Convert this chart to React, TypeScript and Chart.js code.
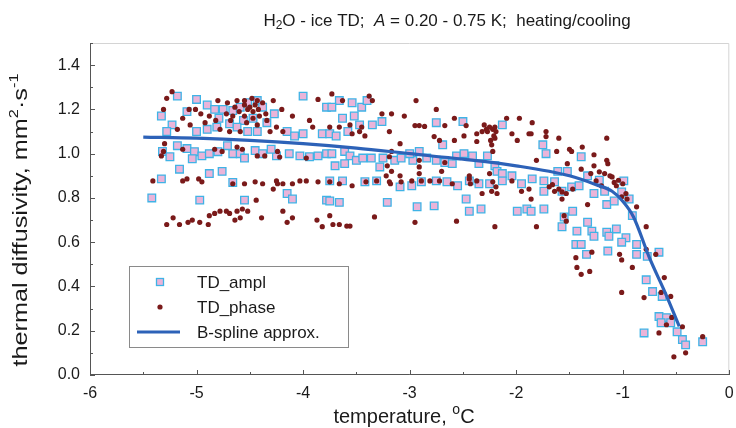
import React, { useEffect, useRef } from "react";
import { Chart, registerables } from "chart.js";

Chart.register(...registerables);

const FONT = '"Liberation Sans", Arial, Helvetica, sans-serif';

// ---------- data ----------
const xTickValues = [-6, -5, -4, -3, -2, -1, 0];
const yTickValues = [0, 0.2, 0.4, 0.6, 0.8, 1.0, 1.2, 1.4];
const legendLabels = ["TD_ampl", "TD_phase", "B-spline approx."];

// TD_ampl (squares): [temperature °C, diffusivity mm²/s]
const tdAmpl: number[][] = [
  [-5.18, 1.26], [-5.0, 1.245], [-5.33, 1.17], [-5.23, 1.13], [-4.9, 1.22], [-4.83, 1.2], [-4.75, 1.2],
  [-4.66, 1.195], [-4.59, 1.21], [-4.52, 1.23], [-4.43, 1.24], [-4.38, 1.21], [-4.27, 1.18], [-4.0, 1.26], [-3.78, 1.21],
  [-4.47, 1.16], [-4.56, 1.15], [-4.34, 1.14], [-4.79, 1.16], [-5.09, 1.19],
  [-5.28, 1.1], [-5.0, 1.1], [-4.9, 1.11], [-4.81, 1.12], [-4.69, 1.135], [-4.62, 1.12], [-4.52, 1.1], [-4.43, 1.1],
  [-4.15, 1.1], [-4.08, 1.08], [-4.0, 1.09], [-3.82, 1.09],
  [-5.18, 1.036], [-5.09, 1.023], [-5.02, 1.009], [-4.95, 0.99], [-4.88, 1.0], [-4.8, 1.009], [-4.71, 1.036],
  [-4.66, 1.0], [-4.59, 1.0], [-4.45, 1.014], [-4.38, 1.0], [-4.25, 0.99], [-4.13, 1.0], [-4.03, 0.99], [-3.94, 0.986],
  [-3.86, 0.99], [-3.78, 1.0], [-4.55, 0.98], [-4.3, 1.02],
  [-5.32, 1.01], [-5.25, 0.986], [-5.04, 0.977], [-5.16, 0.93], [-4.88, 0.91], [-4.76, 0.92], [-5.33, 0.886],
  [-4.66, 0.87], [-5.42, 0.8], [-4.97, 0.79], [-4.55, 0.79], [-4.15, 0.82], [-4.1, 0.795], [-3.78, 0.79],
  [-3.66, 1.24], [-3.54, 1.23], [-3.45, 1.21], [-3.4, 1.24], [-3.73, 1.21], [-3.63, 1.16], [-3.52, 1.17],
  [-3.35, 1.13], [-3.26, 1.145], [-3.75, 1.09], [-3.69, 1.08], [-2.75, 1.14], [-2.5, 1.145], [-2.13, 1.13],
  [-3.47, 1.13], [-3.58, 1.1],
  [-3.73, 1.0], [-3.61, 1.01], [-3.56, 0.99], [-3.5, 0.97], [-3.44, 0.98], [-3.36, 0.98], [-3.7, 0.945],
  [-3.61, 0.955], [-3.28, 0.94], [-3.25, 0.98], [-3.14, 0.97], [-3.08, 0.98], [-2.97, 0.97],
  [-3.0, 1.0], [-2.91, 1.01], [-2.84, 0.98], [-2.75, 0.97], [-2.67, 0.96], [-2.6, 0.955], [-2.56, 0.99],
  [-2.49, 1.0], [-2.41, 0.99], [-2.35, 0.955], [-2.27, 0.99], [-2.2, 0.945], [-2.18, 0.92], [-2.13, 0.91],
  [-2.04, 0.9], [-2.69, 1.04],
  [-3.75, 0.877], [-3.63, 0.877], [-3.42, 0.873], [-3.31, 0.877], [-3.09, 0.85], [-2.98, 0.855], [-2.89, 0.873],
  [-2.75, 0.877], [-2.65, 0.873], [-2.55, 0.855], [-2.44, 0.877], [-2.35, 0.864], [-2.25, 0.864], [-2.13, 0.877],
  [-1.95, 0.864],
  [-3.66, 0.78], [-3.75, 0.786], [-3.21, 0.78], [-2.93, 0.76], [-2.77, 0.764], [-2.47, 0.795], [-2.44, 0.74],
  [-2.33, 0.75], [-1.99, 0.74], [-1.9, 0.75],
  [-1.75, 1.04], [-1.72, 1.0], [-1.39, 0.986], [-1.61, 0.92], [-1.52, 0.92],
  [-1.85, 0.886], [-1.74, 0.877], [-1.64, 0.873], [-1.57, 0.83], [-1.48, 0.85], [-1.41, 0.855], [-1.27, 0.82],
  [-1.17, 0.83], [-1.15, 0.77], [-1.08, 0.786], [-0.99, 0.877], [-1.01, 0.827], [-0.94, 0.795], [-0.91, 0.72],
  [-1.33, 0.9], [-1.22, 0.88],
  [-1.74, 0.83], [-1.74, 0.75], [-1.86, 0.74], [-1.47, 0.74], [-1.55, 0.714], [-1.57, 0.67], [-1.43, 0.65],
  [-1.33, 0.69], [-1.29, 0.65], [-1.15, 0.645], [-1.06, 0.66],
  [-1.44, 0.59], [-1.39, 0.59], [-1.34, 0.545], [-1.27, 0.627], [-1.13, 0.627], [-0.97, 0.62], [-1.01, 0.6],
  [-1.14, 0.56], [-0.87, 0.545], [-0.77, 0.536], [-0.66, 0.555], [-0.87, 0.59], [-0.78, 0.43], [-0.72, 0.377],
  [-0.63, 0.355], [-0.66, 0.264], [-0.59, 0.259], [-0.64, 0.236], [-0.55, 0.236], [-0.8, 0.19], [-0.49, 0.195],
  [-0.44, 0.16], [-0.41, 0.136], [-0.25, 0.15],
];

// TD_phase (dots): [temperature °C, diffusivity mm²/s]
const tdPhase: number[][] = [
  [-5.23, 1.28], [-5.28, 1.25], [-5.31, 1.2], [-5.13, 1.16], [-5.06, 1.13], [-5.18, 1.11], [-4.8, 1.24],
  [-4.71, 1.23], [-4.62, 1.24], [-4.55, 1.24], [-4.48, 1.25], [-4.43, 1.24],
  [-4.72, 1.18], [-4.66, 1.17], [-4.55, 1.17], [-4.47, 1.16], [-4.41, 1.17], [-4.28, 1.24], [-4.2, 1.2],
  [-4.1, 1.17], [-3.86, 1.245],
  [-4.55, 1.22], [-4.5, 1.21], [-4.47, 1.19], [-4.52, 1.2], [-4.6, 1.19], [-4.42, 1.2], [-4.45, 1.22],
  [-4.64, 1.21], [-4.38, 1.23], [-4.68, 1.15], [-4.35, 1.18],
  [-4.96, 1.18], [-4.88, 1.17], [-4.82, 1.15], [-4.92, 1.14], [-5.01, 1.2], [-5.07, 1.2],
  [-4.78, 1.11], [-4.69, 1.1], [-4.59, 1.1], [-4.53, 1.14], [-4.43, 1.13], [-4.34, 1.15], [-4.25, 1.12],
  [-4.19, 1.1], [-4.31, 1.1], [-3.94, 1.15], [-3.91, 1.12], [-3.75, 1.12],
  [-5.3, 1.045], [-5.31, 1.01], [-5.33, 0.99], [-5.13, 1.02], [-4.83, 1.02], [-4.76, 1.01], [-4.62, 1.03],
  [-4.57, 1.02], [-4.43, 0.99], [-4.36, 0.99], [-4.24, 1.01], [-4.22, 0.985], [-3.97, 0.98],
  [-5.13, 0.877], [-5.09, 0.886], [-4.98, 0.886], [-4.95, 0.873], [-5.41, 0.877], [-4.66, 0.864], [-4.55, 0.864],
  [-4.45, 0.873], [-4.38, 0.864], [-4.25, 0.877], [-4.19, 0.864], [-4.1, 0.864], [-4.24, 0.864], [-4.03, 0.877],
  [-3.97, 0.877], [-3.86, 0.873], [-4.28, 0.84], [-4.44, 0.79],
  [-5.28, 0.68], [-5.22, 0.71], [-5.16, 0.68], [-5.08, 0.69], [-5.04, 0.7], [-4.97, 0.69], [-4.89, 0.68],
  [-4.88, 0.72], [-4.83, 0.73], [-4.78, 0.74], [-4.72, 0.74], [-4.69, 0.73], [-4.62, 0.74], [-4.57, 0.75],
  [-4.52, 0.74], [-4.59, 0.71], [-4.64, 0.7], [-4.39, 0.71], [-4.19, 0.74], [-4.15, 0.69], [-4.1, 0.71],
  [-3.87, 0.7], [-3.82, 0.67], [-3.75, 0.72],
  [-3.38, 1.26], [-3.73, 1.27], [-3.63, 1.24], [-3.35, 1.24], [-2.94, 1.24], [-2.75, 1.2], [-3.26, 1.18],
  [-3.17, 1.18], [-3.05, 1.17],
  [-2.91, 1.127], [-2.86, 1.123], [-2.67, 1.127], [-2.58, 1.16], [-2.47, 1.127], [-2.49, 1.08], [-2.37, 1.09],
  [-2.32, 1.1], [-2.27, 1.1], [-2.22, 1.11], [-2.19, 1.1], [-2.2, 1.07], [-2.23, 1.04], [-2.22, 1.01],
  [-2.09, 1.16], [-1.97, 1.16], [-1.99, 1.06], [-2.04, 1.09], [-1.88, 1.09],
  [-2.25, 1.12], [-2.21, 1.08], [-2.24, 1.06], [-2.2, 1.12], [-2.28, 1.11], [-2.3, 1.13],
  [-3.66, 1.12], [-3.56, 1.13], [-3.47, 1.1], [-3.42, 1.08], [-3.45, 1.12], [-3.54, 1.09],
  [-3.19, 1.1], [-3.09, 1.045], [-2.95, 1.127], [-2.77, 1.077], [-2.72, 1.06], [-2.58, 1.06], [-2.37, 1.055],
  [-3.19, 0.986], [-3.21, 0.945], [-3.17, 0.92], [-3.19, 0.873], [-3.09, 0.9], [-3.22, 0.9], [-3.17, 1.01],
  [-2.91, 0.94], [-2.91, 0.91], [-2.89, 0.877], [-2.91, 0.97], [-2.7, 0.92], [-2.67, 0.96], [-2.44, 0.886],
  [-2.43, 0.864],
  [-2.25, 0.91], [-2.22, 0.873], [-2.19, 0.85], [-2.23, 0.83], [-2.32, 0.82], [-2.18, 0.82],
  [-3.75, 0.873], [-3.66, 0.864], [-3.54, 0.855], [-3.41, 0.873], [-3.31, 0.877], [-3.18, 0.864], [-3.08, 0.873],
  [-2.98, 0.877], [-2.81, 0.877], [-2.72, 0.877], [-2.6, 0.864], [-2.37, 0.877], [-2.04, 0.877], [-1.95, 0.83],
  [-3.33, 0.714], [-2.95, 0.69], [-2.56, 0.695], [-2.2, 0.67], [-3.72, 0.68], [-3.66, 0.68], [-3.59, 0.673],
  [-3.56, 0.673], [-2.44, 0.9],
  [-1.85, 1.14], [-1.86, 1.09], [-1.72, 1.1], [-1.72, 1.077], [-1.6, 1.07], [-1.81, 0.97], [-1.15, 1.07],
  [-1.62, 1.01], [-1.5, 1.02], [-1.48, 1.01], [-1.38, 1.03], [-1.27, 0.995], [-1.39, 0.93], [-1.27, 0.945],
  [-1.52, 0.955], [-1.15, 0.97], [-1.14, 0.955],
  [-1.3, 0.91], [-1.22, 0.918], [-1.17, 0.91], [-1.1, 0.895], [-1.25, 0.877], [-1.2, 0.855], [-1.06, 0.855],
  [-1.0, 0.864], [-0.97, 0.82], [-0.96, 0.795], [-1.01, 0.805], [-1.69, 0.85], [-1.64, 0.83], [-1.57, 0.827],
  [-1.53, 0.82], [-1.47, 0.84], [-1.88, 0.84], [-1.86, 0.795], [-1.57, 0.795],
  [-1.12, 0.9], [-1.08, 0.87], [-1.04, 0.88], [-1.66, 0.86], [-1.6, 0.84],
  [-0.87, 0.76], [-0.78, 0.67], [-1.33, 0.77], [-1.81, 0.67], [-1.55, 0.72], [-1.53, 0.695],
  [-1.44, 0.53], [-1.43, 0.486], [-1.39, 0.455], [-1.31, 0.468], [-1.29, 0.555], [-1.03, 0.545], [-1.01, 0.52],
  [-0.91, 0.486], [-0.78, 0.568], [-0.69, 0.545], [-0.61, 0.44], [-0.55, 0.355], [-0.64, 0.373], [-0.8, 0.35],
  [-1.01, 0.373], [-0.54, 0.26], [-0.59, 0.227], [-0.44, 0.218], [-0.66, 0.19], [-0.52, 0.082], [-0.41, 0.1],
  [-0.25, 0.173],
];

// B-spline approximation
const bSpline: number[][] = [
  [-5.5, 1.075], [-5.0, 1.07], [-4.5, 1.06], [-4.0, 1.045], [-3.5, 1.025], [-3.0, 1.0], [-2.5, 0.975],
  [-2.0, 0.945], [-1.5, 0.9], [-1.25, 0.86], [-1.1, 0.83], [-1.0, 0.785], [-0.9, 0.715], [-0.75, 0.53],
  [-0.6, 0.37], [-0.47, 0.22],
];

// ---------- styles ----------
const SQ_FILL = "#eab4d9";
const SQ_EDGE = "#3fb3e6";
const DOT_COLOR = "#7a1a1a";
const LINE_COLOR = "#2d62b8";
const TEXT = "#1a1a1a";

type Piece = { t: string; size: number; italic?: boolean; dy?: number };

function drawPieces(ctx: CanvasRenderingContext2D, pieces: Piece[], cx: number, cy: number) {
  let total = 0;
  for (const p of pieces) {
    ctx.font = `${p.italic ? "italic " : ""}${p.size}px ${FONT}`;
    total += ctx.measureText(p.t).width;
  }
  let x = cx - total / 2;
  ctx.textAlign = "left";
  ctx.textBaseline = "middle";
  for (const p of pieces) {
    ctx.font = `${p.italic ? "italic " : ""}${p.size}px ${FONT}`;
    ctx.fillText(p.t, x, cy + (p.dy || 0));
    x += ctx.measureText(p.t).width;
  }
}

const decorPlugin = {
  id: "decor",
  afterDraw(chart: any) {
    const { ctx, chartArea } = chart;
    const { left, right, top, bottom } = chartArea;
    const xs = chart.scales.x;
    const ys = chart.scales.y;
    ctx.save();
    // frame
    ctx.lineWidth = 1;
    ctx.strokeStyle = "#d4d4d4";
    ctx.beginPath();
    ctx.moveTo(left, top + 0.5);
    ctx.lineTo(right - 0.5, top + 0.5);
    ctx.lineTo(right - 0.5, bottom);
    ctx.stroke();
    ctx.strokeStyle = "#555";
    ctx.beginPath();
    ctx.moveTo(left + 0.5, top);
    ctx.lineTo(left + 0.5, bottom - 0.5);
    ctx.lineTo(right, bottom - 0.5);
    ctx.stroke();
    // inward ticks
    ctx.beginPath();
    for (let v = -6; v <= 0.001; v += 0.5) {
      const px = Math.round(xs.getPixelForValue(v)) + 0.5;
      const major = Math.abs(v - Math.round(v)) < 0.01;
      ctx.moveTo(px, bottom);
      ctx.lineTo(px, bottom - (major ? 5 : 3));
    }
    for (let i = 0; i <= 15; i++) {
      const v = i / 10;
      const py = Math.round(ys.getPixelForValue(v)) + 0.5;
      const major = i % 2 === 0;
      ctx.moveTo(left, py);
      ctx.lineTo(left + (major ? 5 : 3), py);
    }
    ctx.stroke();

    ctx.fillStyle = TEXT;
    // title
    drawPieces(
      ctx,
      [
        { t: "H", size: 17 },
        { t: "2", size: 12, dy: 5 },
        { t: "O - ice TD;  ", size: 17 },
        { t: "A", size: 17, italic: true },
        { t: " = 0.20 - 0.75 K;  heating/cooling", size: 17 },
      ],
      447,
      21
    );
    // x title
    drawPieces(
      ctx,
      [
        { t: "temperature, ", size: 20 },
        { t: "o", size: 14, dy: -7 },
        { t: "C", size: 20 },
      ],
      404,
      417
    );
    // y title (stretched along its length, as in the reference)
    ctx.save();
    ctx.translate(21, 220);
    ctx.rotate(-Math.PI / 2);
    ctx.scale(1.26, 1);
    drawPieces(
      ctx,
      [
        { t: "thermal diffusivity, mm", size: 20 },
        { t: "2", size: 13, dy: -7 },
        { t: "·s", size: 20 },
        { t: "-1", size: 13, dy: -7 },
      ],
      0,
      0
    );
    ctx.restore();

    // legend
    const lx = 129.5, ly = 266.5, lw = 219, lh = 81;
    ctx.fillStyle = "#fff";
    ctx.fillRect(lx, ly, lw, lh);
    ctx.strokeStyle = "#8a8a8a";
    ctx.lineWidth = 1;
    ctx.strokeRect(lx, ly, lw, lh);
    const rows = [282, 307, 332];
    ctx.fillStyle = SQ_FILL;
    ctx.fillRect(156.5, rows[0] - 3.5, 7, 7);
    ctx.strokeStyle = SQ_EDGE;
    ctx.lineWidth = 1.3;
    ctx.strokeRect(156.5, rows[0] - 3.5, 7, 7);
    ctx.fillStyle = DOT_COLOR;
    ctx.beginPath();
    ctx.arc(160, rows[1], 2.6, 0, Math.PI * 2);
    ctx.fill();
    ctx.strokeStyle = LINE_COLOR;
    ctx.lineWidth = 3;
    ctx.beginPath();
    ctx.moveTo(137, rows[2]);
    ctx.lineTo(180, rows[2]);
    ctx.stroke();
    ctx.fillStyle = TEXT;
    ctx.font = `17px ${FONT}`;
    ctx.textAlign = "left";
    ctx.textBaseline = "middle";
    legendLabels.forEach((l, i) => ctx.fillText(l, 197, rows[i] + 1));
    ctx.restore();
  },
};

export default function App() {
  const ref = useRef<HTMLCanvasElement | null>(null);
  useEffect(() => {
    document.body.style.margin = "0";
    if (!ref.current) return;
    const chart = new Chart(ref.current, {
      type: "scatter",
      data: {
        datasets: [
          {
            label: legendLabels[2],
            type: "line",
            data: bSpline.map(([x, y]) => ({ x, y })),
            borderColor: LINE_COLOR,
            borderWidth: 3.2,
            pointRadius: 0,
            fill: false,
            cubicInterpolationMode: "monotone",
            order: 0,
          } as any,
          {
            label: legendLabels[1],
            data: tdPhase.map(([x, y]) => ({ x, y })),
            pointStyle: "circle",
            pointRadius: 2.6,
            backgroundColor: DOT_COLOR,
            borderColor: DOT_COLOR,
            borderWidth: 0,
            order: 1,
          },
          {
            label: legendLabels[0],
            data: tdAmpl.map(([x, y]) => ({ x, y })),
            pointStyle: "rect",
            pointRadius: 5.4,
            backgroundColor: SQ_FILL,
            borderColor: SQ_EDGE,
            borderWidth: 1.3,
            order: 2,
          },
        ],
      },
      options: {
        animation: false,
        responsive: true,
        maintainAspectRatio: false,
        layout: { padding: { top: 43, right: 6, left: 0, bottom: 0 } },
        plugins: {
          legend: { display: false },
          title: { display: false },
          tooltip: { enabled: false },
        },
        scales: {
          x: {
            type: "linear",
            min: -6,
            max: 0,
            afterBuildTicks: (s: any) => {
              s.ticks = xTickValues.map((v) => ({ value: v }));
            },
            afterFit: (s: any) => {
              s.height = 53;
              s.paddingLeft = 0;
              s.paddingRight = 0;
            },
            grid: { display: false, drawTicks: false },
            border: { display: false },
            ticks: {
              padding: 9,
              color: TEXT,
              font: { family: FONT, size: 16 },
              callback: (v: any) => String(v),
            },
          },
          y: {
            type: "linear",
            min: 0,
            max: 1.5,
            afterBuildTicks: (s: any) => {
              s.ticks = yTickValues.map((v) => ({ value: v }));
            },
            afterFit: (s: any) => {
              s.width = 90;
              s.paddingTop = 0;
              s.paddingBottom = 0;
            },
            grid: { display: false, drawTicks: false },
            border: { display: false },
            ticks: {
              padding: 10,
              color: TEXT,
              font: { family: FONT, size: 16 },
              callback: (v: any) => Number(v).toFixed(1),
            },
          },
        },
      },
      plugins: [decorPlugin],
    });
    return () => chart.destroy();
  }, []);
  return (
    <div style={{ width: 736, height: 428, position: "relative" }}>
      <canvas ref={ref} />
    </div>
  );
}
